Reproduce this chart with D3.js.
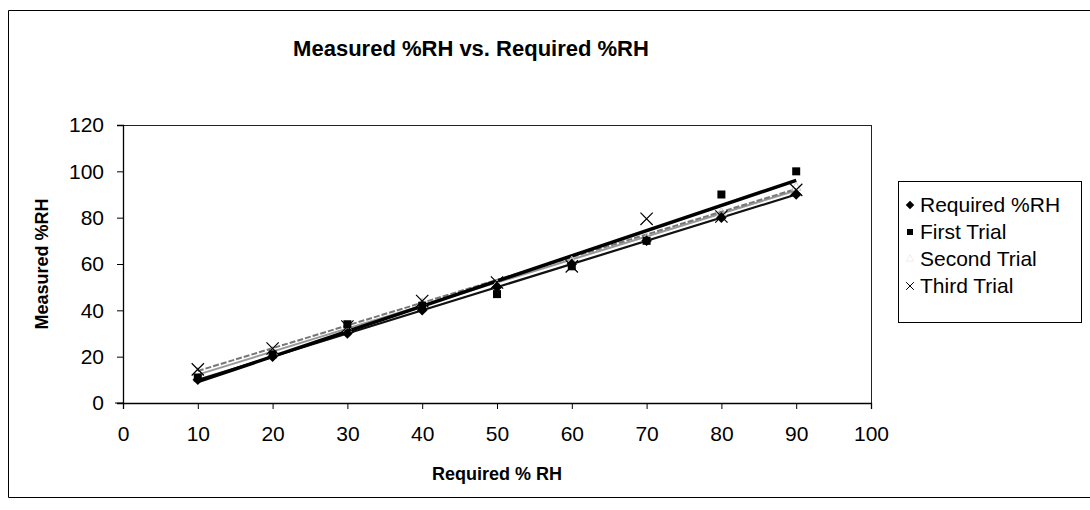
<!DOCTYPE html>
<html>
<head>
<meta charset="utf-8">
<script src="https://cdn.jsdelivr.net/npm/d3@7"></script>
<style>
  body { margin: 0; background: #fff; }
  svg { display: block; font-family: Arial, "Liberation Sans", sans-serif; }
</style>
</head>
<body>
<div id="chart"></div>
<script>
const width = 1090, height = 510;

// data
const requiredX = [10, 20, 30, 40, 50, 60, 70, 80, 90];
const requiredRH = [10, 20, 30, 40, 50, 60, 70, 80, 90];
const firstTrial = [11, 21, 34, 42, 47, 59, 70, 90, 100];
const secondTrial = [13, 22, 32, 43, 51, 61, 71, 82, 93];
const thirdTrial = [14.5, 23.5, 33, 44, 52, 59, 79.5, 80.5, 92];
const seriesNames = ["Required %RH", "First Trial", "Second Trial", "Third Trial"];
const xTicks = [0, 10, 20, 30, 40, 50, 60, 70, 80, 90, 100];
const yTicks = [0, 20, 40, 60, 80, 100, 120];

const x = d3.scaleLinear().domain([0, 100]).range([123, 871]);
const y = d3.scaleLinear().domain([0, 120]).range([403, 125]);

const svg = d3.select("#chart").append("svg")
    .attr("width", width)
    .attr("height", height);

// chart area border (right side runs off the page)
svg.append("path")
    .attr("d", "M1095,10.5 H8.5 V497.5 H1095")
    .attr("fill", "none")
    .attr("stroke", "#000")
    .attr("stroke-width", 1);

// plot area border
svg.append("rect")
    .attr("x", x(0) + 0.5)
    .attr("y", y(120) + 0.5)
    .attr("width", x(100) - x(0))
    .attr("height", y(0) - y(120))
    .attr("fill", "none")
    .attr("stroke", "#222")
    .attr("stroke-width", 1);

svg.append("text")
    .attr("x", 471)
    .attr("y", 56)
    .attr("text-anchor", "middle")
    .style("font-size", "22px")
    .style("font-weight", "bold")
    .text("Measured %RH vs. Required %RH");

const xAxis = svg.append("g")
    .attr("transform", "translate(0," + y(0) + ")")
    .call(d3.axisBottom(x).tickValues(xTicks).tickSize(6).tickPadding(17));
const yAxis = svg.append("g")
    .attr("transform", "translate(" + x(0) + ",0)")
    .call(d3.axisLeft(y).tickValues(yTicks).tickSize(6).tickPadding(13));
[xAxis, yAxis].forEach(function(g) {
    g.select(".domain").attr("stroke", "#000").attr("stroke-width", 1.3);
    g.selectAll(".tick line").attr("stroke", "#000");
    g.selectAll(".tick text")
        .style("font-size", "21px")
        .style("font-family", "Arial, 'Liberation Sans', sans-serif")
        .attr("fill", "#000");
});
// the x axis line runs a little past the y axis
xAxis.append("line")
    .attr("x1", x(0) - 8).attr("x2", x(0))
    .attr("stroke", "#000");

svg.append("text")
    .attr("x", (x(0) + x(100)) / 2)
    .attr("y", 480)
    .attr("text-anchor", "middle")
    .style("font-size", "18px")
    .style("font-weight", "bold")
    .text("Required % RH");

svg.append("text")
    .attr("transform", "translate(48," + ((y(0) + y(120)) / 2) + ") rotate(-90)")
    .attr("text-anchor", "middle")
    .style("font-size", "18px")
    .style("font-weight", "bold")
    .text("Measured %RH");

// linear trendlines, like the spreadsheet adds
function fit(xs, ys) {
    const mx = d3.mean(xs), my = d3.mean(ys);
    const b = d3.sum(xs, (v, i) => (v - mx) * (ys[i] - my)) / d3.sum(xs, v => (v - mx) * (v - mx));
    return v => my + b * (v - mx);
}
const ends = d3.extent(requiredX);
const line = d3.line().x(d => x(d[0])).y(d => y(d[1]));
const trends = [
    {ys: secondTrial, color: "#999", w: 2, dash: null},
    {ys: thirdTrial, color: "#777", w: 2, dash: "6,2"},
    {ys: requiredRH, color: "#111", w: 2.2, dash: null},
    {ys: firstTrial, color: "#000", w: 3.5, dash: null}
];
trends.forEach(function(t) {
    const f = fit(requiredX, t.ys);
    svg.append("path")
        .attr("d", line(ends.map(v => [v, f(v)])))
        .attr("fill", "none")
        .attr("stroke", t.color)
        .attr("stroke-width", t.w)
        .attr("stroke-dasharray", t.dash);
});

// markers
const diamond = d3.symbol(d3.symbolSquare, 56);
const square = d3.symbol(d3.symbolSquare, 64);
const triangle = d3.symbol(d3.symbolTriangle, 40);
const cross = d3.symbol(d3.symbolTimes || d3.symbolCross, 100);

function markers(ys, sym, fill, stroke, sw, rot) {
    svg.append("g").selectAll("path")
        .data(ys)
        .enter()
        .append("path")
        .attr("transform", (d, i) => "translate(" + x(requiredX[i]) + "," + y(d) + ") rotate(" + rot + ")")
        .attr("d", sym)
        .attr("fill", fill)
        .attr("stroke", stroke)
        .attr("stroke-width", sw);
}
markers(secondTrial, triangle, "none", "#ccc", 1, 0);
markers(thirdTrial, cross, "none", "#000", 1.2, 0);
markers(firstTrial, square, "#000", "none", 0, 0);
markers(requiredRH, diamond, "#000", "none", 0, 45);

// legend
const legend = svg.append("g");
legend.append("rect")
    .attr("x", 898.5).attr("y", 181.5)
    .attr("width", 183).attr("height", 141)
    .attr("fill", "#fff")
    .attr("stroke", "#000");
const legendSyms = [
    d3.symbol(d3.symbolSquare, 36),
    d3.symbol(d3.symbolSquare, 36),
    d3.symbol(d3.symbolTriangle, 24),
    d3.symbol(d3.symbolTimes || d3.symbolCross, 40)
];
const legendRot = [45, 0, 0, 0];
const legendFill = ["#000", "#000", "none", "none"];
const legendStroke = ["none", "none", "#eee", "#000"];
seriesNames.forEach(function(name, i) {
    const cy = 205 + i * 27;
    legend.append("path")
        .attr("transform", "translate(910," + cy + ") rotate(" + legendRot[i] + ")")
        .attr("d", legendSyms[i])
        .attr("fill", legendFill[i])
        .attr("stroke", legendStroke[i]);
    legend.append("text")
        .attr("x", 920)
        .attr("y", cy)
        .attr("dy", "0.35em")
        .style("font-size", "21px")
        .text(name);
});
</script>
</body>
</html>
